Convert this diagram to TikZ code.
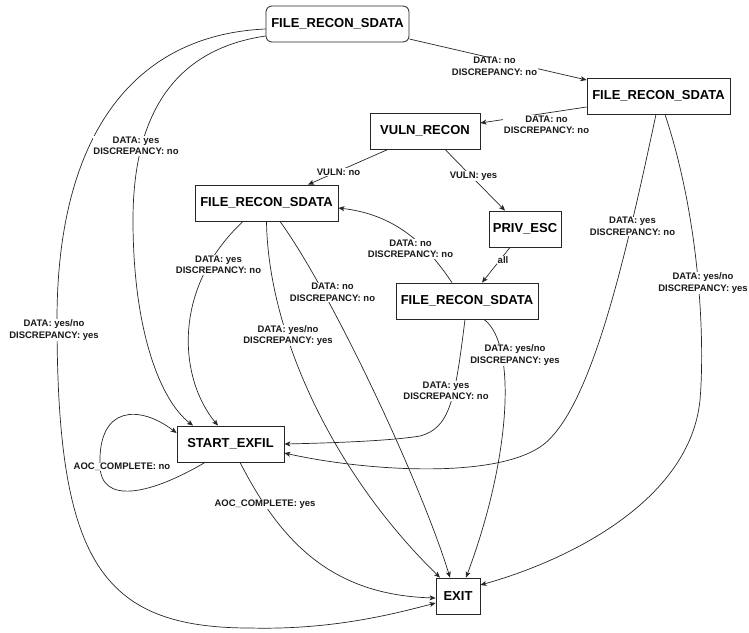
\documentclass[tikz,border=0pt]{standalone}
\usepackage{fontspec}
\setmainfont{Liberation Sans}
\usetikzlibrary{arrows.meta}

\begin{document}
\begin{tikzpicture}[
    x=1pt, y=-1pt,
    state/.style={
        draw=black!85,
        line width=0.8pt,
        fill=white,
        minimum height=36pt,
        inner sep=0pt,
        font=\fontsize{13}{15}\selectfont\bfseries
        },
    edge/.style={
        draw=black!85,
        line width=0.7pt,
        -{Stealth[length=6pt,width=5pt,inset=1.5pt]}
        },
    lbl/.style={
        fill=white,
        inner sep=0.5pt,
        align=center,
        text=black!90,
        font=\fontsize{9.5}{11.5}\selectfont\bfseries
        }
    ]

    \useasboundingbox (0,0) rectangle (749,632);

    % states
    \node[state, minimum width=143pt, rounded corners=6pt] (recon1) at (337.5,24) {FILE\_RECON\_SDATA};
    \node[state, minimum width=143pt] (recon2) at (658.5,96) {FILE\_RECON\_SDATA};
    \node[state, minimum width=110pt] (vuln) at (425,131) {VULN\_RECON};
    \node[state, minimum width=143pt] (recon3) at (266.5,203) {FILE\_RECON\_SDATA};
    \node[state, minimum width=72pt] (priv) at (525,229) {PRIV\_ESC};
    \node[state, minimum width=142pt] (recon4) at (467,301) {FILE\_RECON\_SDATA};
    \node[state, minimum width=107pt] (exfil) at (230.5,444) {START\_EXFIL};
    \node[state, minimum width=44pt] (exit) at (458,596) {EXIT};

    % transitions
    \draw[edge] ([yshift=-15pt]recon1.east) -- ([yshift=16pt]recon2.west);
    \draw[edge] ([yshift=-12pt]recon1.west) .. controls (170,50) and (133,120) .. (133,220)
        .. controls (133,330) and (160,400) .. ([xshift=-37.5pt]exfil.north);
    \draw[edge] ([yshift=-5pt]recon1.west) .. controls (130,35) and (57,140) .. (57,320)
        .. controls (57,560) and (100,628) .. (250,628)
        .. controls (330,630) and (390,615) .. ([yshift=-7pt]exit.west);

    \draw[edge] ([yshift=-11pt]recon2.west) -- ([yshift=8pt]vuln.east);
    \draw[edge] ([xshift=-2.5pt]recon2.south) .. controls (625,260) and (590,414) .. (540,447)
        .. controls (490,480) and (360,470) .. ([yshift=-9pt]exfil.east);
    \draw[edge] ([xshift=6.5pt]recon2.south) .. controls (700,220) and (705,340) .. (700,400)
        .. controls (690,500) and (570,560) .. ([yshift=11pt]exit.east);

    \draw[edge] ([xshift=-37pt]vuln.south) -- ([xshift=41.5pt]recon3.north);
    \draw[edge] ([xshift=20pt]vuln.south) -- ([xshift=-20pt]priv.north);
    \draw[edge] ([xshift=-15pt]priv.south) -- ([xshift=15pt]recon4.north);

    \draw[edge] ([xshift=-15pt]recon4.north) .. controls (430,250) and (400,215) .. ([yshift=-5pt]recon3.east);
    \draw[edge] ([xshift=-2pt]recon4.south) .. controls (455,400) and (450,428) .. (420,436)
        .. controls (390,441) and (330,443) .. (exfil.east);
    \draw[edge] ([xshift=17pt]recon4.south) .. controls (518,345) and (510,460) .. ([xshift=8pt]exit.north);

    \draw[edge] ([xshift=-23.5pt]recon3.south) .. controls (170,290) and (180,380) .. ([xshift=-12.5pt]exfil.north);
    \draw[edge] (recon3.south) .. controls (268,330) and (330,470) .. ([xshift=-18pt]exit.north);
    \draw[edge] ([xshift=13.5pt]recon3.south) .. controls (330,290) and (420,480) .. ([xshift=-8pt]exit.north);

    \draw[edge] ([xshift=-25.5pt]exfil.south) .. controls (150,495) and (100,505) .. (100,465)
        .. controls (98,405) and (140,405) .. ([yshift=11pt]exfil.west);
    \draw[edge] ([xshift=9.5pt]exfil.south) .. controls (280,540) and (330,595) .. ([yshift=-2pt]exit.west);

    % labels
    \node[lbl] (l-r1r2) at (494.5,66.5) {DATA: no\\DISCREPANCY: no};
    \node[lbl] (l-r1ex) at (136,146) {DATA: yes\\DISCREPANCY: no};
    \node[lbl] (l-r1exit) at (54,330) {DATA: yes/no\\DISCREPANCY: yes};
    \node[lbl] (l-r2vu) at (546.5,125) {DATA: no\\DISCREPANCY: no};
    \node[lbl] (l-r2ex) at (632.5,226.5) {DATA: yes\\DISCREPANCY: no};
    \node[lbl] (l-r2exit) at (703,283) {DATA: yes/no\\DISCREPANCY: yes};
    \node[lbl] (l-vur3) at (338.5,172) {VULN: no};
    \node[lbl] (l-vupr) at (473.5,176) {VULN: yes};
    \node[lbl] (l-prr4) at (503,260) {all};
    \node[lbl] (l-r4r3) at (410.5,249) {DATA: no\\DISCREPANCY: no};
    \node[lbl] (l-r3ex) at (218.5,265) {DATA: yes\\DISCREPANCY: no};
    \node[lbl] (l-r3exit1) at (288,335.5) {DATA: yes/no\\DISCREPANCY: yes};
    \node[lbl] (l-r3exit2) at (332.5,292.5) {DATA: no\\DISCREPANCY: no};
    \node[lbl] (l-r4ex) at (446,391) {DATA: yes\\DISCREPANCY: no};
    \node[lbl] (l-r4exit) at (515,355) {DATA: yes/no\\DISCREPANCY: yes};
    \node[lbl] (l-exloop) at (122,467) {AOC\_COMPLETE: no};
    \node[lbl] (l-exexit) at (265,504) {AOC\_COMPLETE: yes};

\end{tikzpicture}
\end{document}
